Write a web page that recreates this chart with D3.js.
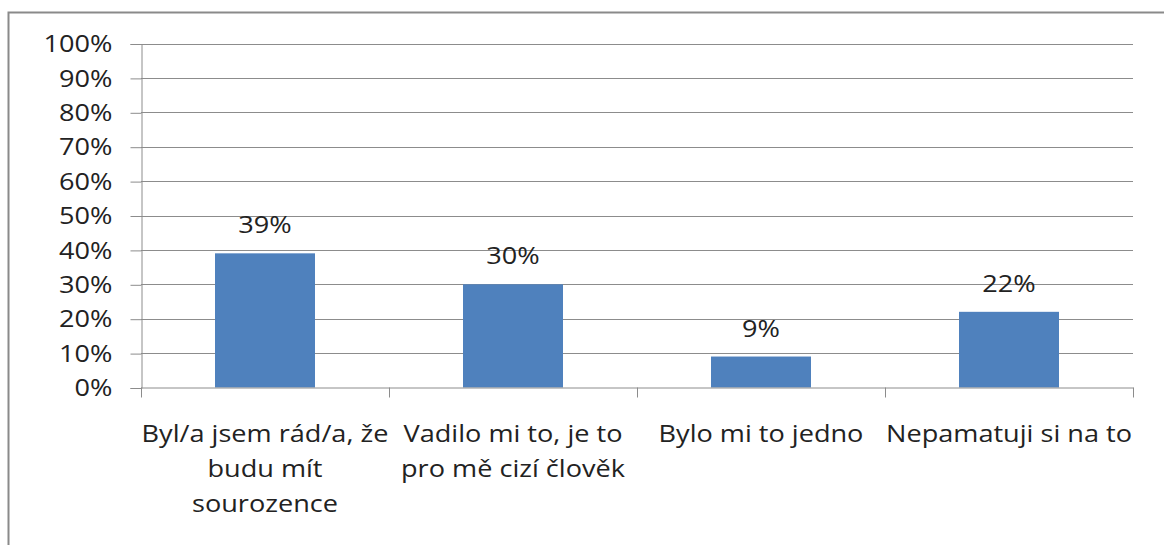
<!DOCTYPE html>
<html>
<head>
<meta charset="utf-8">
<script src="https://cdn.jsdelivr.net/npm/d3@7"></script>
<style>
  body { margin: 0; background: #fff; }
  svg text { font-family: "Open Sans", "Noto Sans", sans-serif; fill: #222; }
</style>
</head>
<body>
<div id="chart"></div>
<script>
// chart data
var categories = [
  'Byl/a jsem rád/a, že\nbudu mít\nsourozence',
  'Vadilo mi to, je to\npro mě cizí člověk',
  'Bylo mi to jedno',
  'Nepamatuji si na to'
];
var values = [0.39, 0.30, 0.09, 0.22];
var yTicks = [0, 0.1, 0.2, 0.3, 0.4, 0.5, 0.6, 0.7, 0.8, 0.9, 1.0];

var W = 1164, H = 545;
var plot = { left: 141, right: 1133, top: 43.5, bottom: 387.5 };
var stretch = 1.13; // the original text is a bit wider than Open Sans

var svg = d3.select('#chart').append('svg')
  .attr('width', W).attr('height', H);

// outer frame (right and bottom edges fall outside the picture)
svg.append('path')
  .attr('d', 'M8.5,' + H + 'V12.5H' + W)
  .attr('fill', 'none')
  .attr('stroke', '#8a8a8a')
  .attr('stroke-width', 2);

var x = d3.scaleBand()
  .domain(d3.range(categories.length))
  .range([plot.left, plot.right])
  .paddingInner(0).paddingOuter(0);

var y = d3.scaleLinear()
  .domain([0, 1])
  .range([plot.bottom, plot.top]);

// gridlines
svg.append('g').selectAll('line')
  .data(yTicks.slice(1))
  .enter().append('line')
  .attr('x1', plot.left).attr('x2', plot.right)
  .attr('y1', function (d) { return Math.round(y(d)) + 0.5; })
  .attr('y2', function (d) { return Math.round(y(d)) + 0.5; })
  .attr('stroke', '#8c8c8c').attr('stroke-width', 1);

// y axis
var yAxis = d3.axisLeft(y)
  .tickValues(yTicks)
  .tickFormat(d3.format('.0%'))
  .tickSize(11);
var yg = svg.append('g')
  .attr('transform', 'translate(' + (plot.left + 0.5) + ',0.5)')
  .call(yAxis);
yg.selectAll('.domain, .tick line').attr('stroke', '#8c8c8c');
yg.selectAll('.tick text')
  .attr('x', 0)
  .attr('transform', 'translate(-29,0) scale(' + stretch + ',1)')
  .attr('font-size', 24)
  .style('font-family', '"Open Sans", sans-serif')
  .attr('fill', '#222');

// bars
var barW = 100;
svg.append('g').selectAll('rect')
  .data(values)
  .enter().append('rect')
  .attr('x', function (d, i) { return x(i) + (x.bandwidth() - barW) / 2; })
  .attr('y', function (d) { return y(d); })
  .attr('width', barW)
  .attr('height', function (d) { return plot.bottom - y(d); })
  .attr('fill', '#4f81bd');

// x axis (line with boundary ticks)
var xg = svg.append('g');
xg.append('line')
  .attr('x1', plot.left).attr('x2', plot.right + 0.5)
  .attr('y1', plot.bottom + 0.5).attr('y2', plot.bottom + 0.5)
  .attr('stroke', '#8c8c8c');
xg.selectAll('line.tk')
  .data(d3.range(categories.length + 1))
  .enter().append('line')
  .attr('class', 'tk')
  .attr('x1', function (i) { return Math.round(plot.left + i * x.bandwidth()) + 0.5; })
  .attr('x2', function (i) { return Math.round(plot.left + i * x.bandwidth()) + 0.5; })
  .attr('y1', plot.bottom).attr('y2', plot.bottom + 10)
  .attr('stroke', '#8c8c8c');

// value labels
svg.append('g').selectAll('text')
  .data(values)
  .enter().append('text')
  .attr('transform', function (d, i) {
    return 'translate(' + (x(i) + x.bandwidth() / 2) + ',' + (y(d) - 20) + ') scale(' + stretch + ',1)';
  })
  .attr('text-anchor', 'middle')
  .attr('font-size', 24)
  .text(function (d) { return Math.round(d * 100) + '%'; });

// category labels
var cl = svg.append('g').selectAll('text')
  .data(categories)
  .enter().append('text')
  .attr('text-anchor', 'middle')
  .attr('font-size', 24)
  .attr('transform', function (d, i) {
    return 'translate(' + (x(i) + x.bandwidth() / 2) + ',442) scale(' + stretch + ',1)';
  });
cl.each(function (d, i) {
  var t = d3.select(this);
  d.split('\n').forEach(function (line, k) {
    t.append('tspan')
      .attr('x', 0)
      .attr('dy', k === 0 ? 0 : 35)
      .text(line);
  });
});
</script>
</body>
</html>
